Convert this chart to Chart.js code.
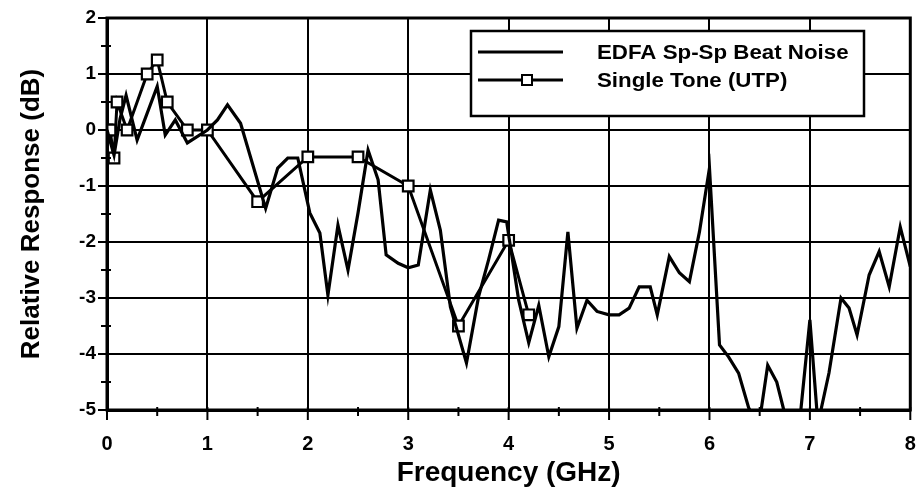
<!DOCTYPE html>
<html>
<head>
<meta charset="utf-8">
<script src="https://cdn.jsdelivr.net/npm/chart.js@4/dist/chart.umd.min.js"></script>
<style>
  html, body { margin: 0; padding: 0; background: #fff; }
  #wrap { width: 920px; height: 498px; }
</style>
</head>
<body>
<div id="wrap"><canvas id="c" width="920" height="498"></canvas></div>
<script>
// EDFA spontaneous-spontaneous beat noise response (GHz, dB)
const edfaFreq = [0, 0.07, 0.13, 0.19, 0.3, 0.5, 0.58, 0.68, 0.8, 1.0,
  1.1, 1.2, 1.33, 1.58, 1.7, 1.8, 1.9, 2.02, 2.12, 2.2,
  2.3, 2.4, 2.5, 2.6, 2.7, 2.78, 2.9, 3.0, 3.1, 3.22,
  3.32, 3.42, 3.58, 3.7, 3.8, 3.9, 3.98, 4.1, 4.2, 4.3,
  4.4, 4.5, 4.59, 4.68, 4.78, 4.88, 5.0, 5.1, 5.2, 5.3,
  5.41, 5.48, 5.6, 5.7, 5.8, 5.9, 6.0, 6.1, 6.19, 6.29,
  6.39, 6.49, 6.58, 6.67, 6.74, 6.82, 6.91, 7.0, 7.08, 7.19,
  7.31, 7.39, 7.47, 7.59, 7.69, 7.79, 7.9, 8.0];
const edfaDb = [0, -0.45, 0.2, 0.62, -0.18, 0.78, -0.09, 0.18, -0.23, 0,
  0.18, 0.45, 0.12, -1.4, -0.68, -0.5, -0.5, -1.48, -1.84, -2.95,
  -1.7, -2.5, -1.48, -0.36, -0.89, -2.23, -2.38, -2.46, -2.41, -1.07,
  -1.79, -3.16, -4.16, -2.98, -2.32, -1.61, -1.64, -3.04, -3.8, -3.13,
  -4.05, -3.51, -1.82, -3.54, -3.04, -3.24, -3.3, -3.3, -3.18, -2.8,
  -2.8, -3.3, -2.26, -2.55, -2.71, -1.82, -0.68, -3.84, -4.05, -4.34,
  -4.96, -5.3, -4.2, -4.5, -5.0, -5.35, -5.0, -3.39, -5.25, -4.34,
  -3.0, -3.18, -3.66, -2.59, -2.17, -2.8, -1.73, -2.44];

// Single tone (UTP) measurement points
const toneFreq = [0, 0.03, 0.07, 0.1, 0.2, 0.4, 0.5, 0.6, 0.8, 1.0, 1.5, 2.0, 2.5, 3.0, 3.5, 4.0, 4.2];
const toneDb   = [0, 0, -0.5, 0.5, 0, 1.0, 1.25, 0.5, 0, 0, -1.28, -0.48, -0.48, -1.0, -3.5, -1.97, -3.3];

const seriesNames = ['EDFA Sp-Sp Beat Noise', 'Single Tone (UTP)'];
const xTitle = 'Frequency (GHz)';
const yTitle = 'Relative Response (dB)';

const FONT = '"Liberation Sans", Arial, Helvetica, sans-serif';
const toPoints = (xs, ys) => xs.map((x, i) => ({ x, y: ys[i] }));
const isMajor = v => Math.abs(v - Math.round(v)) < 1e-6;

// Frame, major/minor tick marks and the in-plot legend box
const decorations = {
  id: 'decorations',
  afterDraw(chart) {
    const { ctx, chartArea: a, scales } = chart;
    ctx.save();
    ctx.strokeStyle = '#000';
    // tick marks
    ctx.lineWidth = 2;
    scales.x.ticks.forEach(t => {
      const px = scales.x.getPixelForValue(t.value);
      const len = isMajor(t.value) ? 10 : 6;
      ctx.beginPath();
      ctx.moveTo(px, a.bottom - 3);
      ctx.lineTo(px, a.bottom + len);
      ctx.stroke();
    });
    scales.y.ticks.forEach(t => {
      const py = scales.y.getPixelForValue(t.value);
      const len = isMajor(t.value) ? 9 : 6;
      ctx.beginPath();
      ctx.moveTo(a.left - len, py);
      ctx.lineTo(a.left + (isMajor(t.value) ? 0 : 4), py);
      ctx.stroke();
    });
    // frame
    ctx.lineWidth = 3;
    ctx.strokeRect(a.left, a.top, a.right - a.left, a.bottom - a.top);

    // legend
    const bx = 471, by = 31, bw = 393, bh = 85;
    ctx.fillStyle = '#fff';
    ctx.fillRect(bx, by, bw, bh);
    ctx.lineWidth = 2.5;
    ctx.strokeRect(bx, by, bw, bh);
    const rows = [52, 80];
    chart.data.datasets.forEach((ds, i) => {
      const y = rows[i];
      ctx.lineWidth = 3;
      ctx.strokeStyle = ds.borderColor;
      ctx.beginPath();
      ctx.moveTo(478, y);
      ctx.lineTo(563, y);
      ctx.stroke();
      if (ds.pointRadius > 0) {
        ctx.fillStyle = '#fff';
        ctx.lineWidth = 2;
        ctx.fillRect(522, y - 5, 10, 10);
        ctx.strokeRect(522, y - 5, 10, 10);
      }
      ctx.fillStyle = '#000';
      ctx.font = 'bold 20px ' + FONT;
      ctx.textBaseline = 'middle';
      ctx.textAlign = 'left';
      ctx.save();
      ctx.translate(597, y + 1);
      ctx.scale(1.115, 1);
      ctx.fillText(ds.label, 0, 0);
      ctx.restore();
    });
    ctx.restore();
  }
};

new Chart(document.getElementById('c'), {
  type: 'line',
  data: {
    datasets: [
      {
        label: seriesNames[0],
        data: toPoints(edfaFreq, edfaDb),
        borderColor: '#000',
        borderWidth: 3.2,
        pointRadius: 0,
        tension: 0,
        clip: 0
      },
      {
        label: seriesNames[1],
        data: toPoints(toneFreq, toneDb),
        borderColor: '#000',
        borderWidth: 3,
        pointStyle: 'rect',
        pointRadius: 7.5,
        pointBorderWidth: 2.2,
        pointBackgroundColor: '#fff',
        pointBorderColor: '#000',
        tension: 0,
        clip: 0
      }
    ]
  },
  options: {
    responsive: false,
    animation: false,
    devicePixelRatio: 1,
    layout: { padding: { top: 18, right: 8, left: 0, bottom: 0 } },
    plugins: { legend: { display: false }, tooltip: { enabled: false } },
    scales: {
      x: {
        type: 'linear',
        min: 0, max: 8,
        afterFit: s => { s.height = 88; s.paddingLeft = 0; s.paddingRight = 0; },
        ticks: {
          stepSize: 0.5,
          autoSkip: false,
          maxRotation: 0,
          padding: 22,
          color: '#000',
          font: { family: FONT, size: 20, weight: 'bold' },
          callback: v => isMajor(v) ? String(Math.round(v)) : ''
        },
        grid: {
          drawTicks: false,
          lineWidth: 2,
          color: c => isMajor(c.tick.value) ? '#000' : 'rgba(0,0,0,0)'
        },
        border: { display: true, color: '#000', width: 3 },
        title: {
          display: true,
          text: xTitle,
          color: '#000',
          font: { family: FONT, size: 28, weight: 'bold' },
          padding: { top: 0, bottom: 8 }
        }
      },
      y: {
        type: 'linear',
        min: -5, max: 2,
        afterFit: s => { s.width = 107; s.paddingTop = 0; s.paddingBottom = 0; },
        ticks: {
          stepSize: 0.5,
          autoSkip: false,
          padding: 11,
          color: '#000',
          font: { family: FONT, size: 19, weight: 'bold' },
          callback: v => isMajor(v) ? String(Math.round(v)) : ''
        },
        grid: {
          drawTicks: false,
          lineWidth: 2,
          color: c => isMajor(c.tick.value) ? '#000' : 'rgba(0,0,0,0)'
        },
        border: { display: true, color: '#000', width: 3 },
        title: {
          display: true,
          text: yTitle,
          color: '#000',
          font: { family: FONT, size: 26, weight: 'bold' },
          padding: { top: 16, bottom: 0 }
        }
      }
    }
  },
  plugins: [decorations]
});
</script>
</body>
</html>
